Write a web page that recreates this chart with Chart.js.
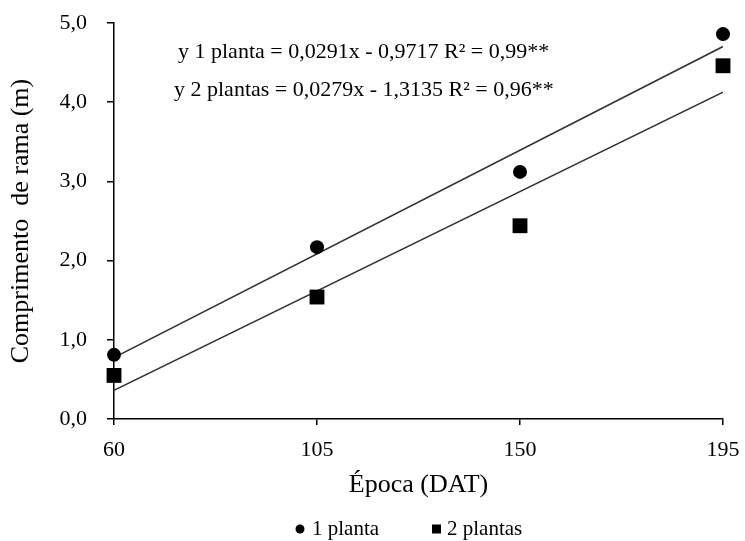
<!DOCTYPE html>
<html>
<head>
<meta charset="utf-8">
<script src="https://cdn.jsdelivr.net/npm/chart.js@4.4.1/dist/chart.umd.min.js"></script>
<style>
  html, body { margin: 0; padding: 0; background: #fff; }
  #wrap { width: 745px; height: 541px; }
</style>
</head>
<body>
<div id="wrap"><canvas id="myChart" width="745" height="541"></canvas></div>
<script>
var epochs = [60, 105, 150, 195];
var xTicks = [60, 105, 150, 195];
var seriesNames = ['1 planta', '2 plantas'];
var planta1 = [0.81, 2.17, 3.12, 4.86];
var plantas2 = [0.55, 1.54, 2.44, 4.46];
// regression: slope, intercept (from the equations in the figure)
var fit1 = [0.0291, -0.9717];
var fit2 = [0.0279, -1.3135];
var eqLabels = [
  'y 1 planta = 0,0291x - 0,9717 R² = 0,99**',
  'y 2 plantas = 0,0279x - 1,3135 R² = 0,96**'
];

var FONT = '"Liberation Serif", "Times New Roman", serif';

var toPoints = function(xs, ys) {
  return xs.map(function(x, i) { return { x: x, y: ys[i] }; });
};

var fitLine = function(fit) {
  var a = epochs[0], b = epochs[epochs.length - 1];
  return [{ x: a, y: fit[0] * a + fit[1] }, { x: b, y: fit[0] * b + fit[1] }];
};

var comma = function(v, d) { return v.toFixed(d).replace('.', ','); };

// equation text inside the plot
var equations = {
  id: 'equations',
  afterDatasetsDraw: function(chart) {
    var c = chart.ctx;
    c.save();
    c.font = '22px ' + FONT;
    c.fillStyle = '#000';
    c.textBaseline = 'middle';
    c.textAlign = 'left';
    c.fillText(eqLabels[0], 178, 52);
    c.fillText(eqLabels[1], 174, 90);
    c.restore();
  }
};

// legend under the axis title: small dot / small square
var bottomLegend = {
  id: 'bottomLegend',
  afterDraw: function(chart) {
    var c = chart.ctx, y = 529;
    c.save();
    c.fillStyle = '#000';
    c.font = '21px ' + FONT;
    c.textBaseline = 'middle';
    c.textAlign = 'left';
    c.beginPath();
    c.arc(300, y, 4.5, 0, Math.PI * 2);
    c.fill();
    c.fillText(seriesNames[0], 312, y);
    c.fillRect(432, y - 4.5, 9, 9);
    c.fillText(seriesNames[1], 447, y);
    c.restore();
  }
};

var ctx = document.getElementById('myChart').getContext('2d');

new Chart(ctx, {
  type: 'scatter',
  data: {
    datasets: [
      {
        label: seriesNames[0],
        data: toPoints(epochs, planta1),
        pointStyle: 'circle',
        pointRadius: 7,
        backgroundColor: '#000',
        borderColor: '#000',
        borderWidth: 0,
        clip: false,
        order: 1
      }, {
        label: seriesNames[1],
        data: toPoints(epochs, plantas2),
        pointStyle: 'rect',
        pointRadius: 10.5,
        backgroundColor: '#000',
        borderColor: '#000',
        borderWidth: 0,
        clip: false,
        order: 1
      }, {
        label: 'fit1',
        type: 'line',
        data: fitLine(fit1),
        borderColor: '#333',
        borderWidth: 1.5,
        pointRadius: 0,
        fill: false,
        order: 2
      }, {
        label: 'fit2',
        type: 'line',
        data: fitLine(fit2),
        borderColor: '#333',
        borderWidth: 1.5,
        pointRadius: 0,
        fill: false,
        order: 2
      }
    ]
  },
  options: {
    responsive: false,
    animation: false,
    layout: { padding: { left: 0, right: 22, top: 23, bottom: 40 } },
    plugins: {
      tooltip: { enabled: false },
      legend: { display: false }
    },
    scales: {
      x: {
        type: 'linear',
        min: 60,
        max: 195,
        afterBuildTicks: function(scale) {
          scale.ticks = xTicks.map(function(v) { return { value: v }; });
        },
        afterFit: function(scale) {
          scale.height = 82;
          scale.paddingLeft = 0;
          scale.paddingRight = 0;
        },
        ticks: {
          color: '#000',
          font: { family: FONT, size: 22 },
          padding: 12,
          maxRotation: 0
        },
        grid: { drawOnChartArea: false, drawTicks: true, tickLength: 6, color: '#000', lineWidth: 1.5 },
        border: { display: true, color: '#000', width: 1.5 },
        title: {
          display: true,
          text: 'Época (DAT)',
          color: '#000',
          font: { family: FONT, size: 26 },
          padding: { top: 0, bottom: 0 }
        }
      },
      y: {
        min: 0,
        max: 5,
        ticks: {
          stepSize: 1,
          color: '#000',
          font: { family: FONT, size: 22 },
          padding: 20,
          callback: function(v) { return comma(v, 1); }
        },
        afterFit: function(scale) {
          scale.width = 114;
          scale.paddingTop = 0;
          scale.paddingBottom = 0;
        },
        grid: { drawOnChartArea: false, drawTicks: true, tickLength: 7, color: '#000', lineWidth: 1.5 },
        border: { display: true, color: '#000', width: 1.5 },
        title: {
          display: true,
          text: 'Comprimento  de rama (m)',
          color: '#000',
          font: { family: FONT, size: 26 },
          padding: { top: 6, bottom: 0 }
        }
      }
    }
  },
  plugins: [equations, bottomLegend]
});
</script>
</body>
</html>
